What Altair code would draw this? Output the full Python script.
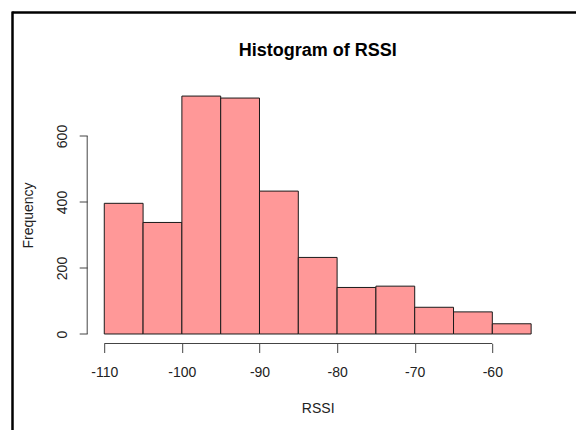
import altair as alt
import pandas as pd

bin_start = [-110, -105, -100, -95, -90, -85, -80, -75, -70, -65, -60]
bin_width = 5
counts = [396, 338, 721, 715, 433, 232, 141, 145, 81, 67, 31]

x_ticks = [-110, -100, -90, -80, -70, -60]
y_ticks = [0, 200, 400, 600]
title_text = "Histogram of RSSI"

df = pd.DataFrame({
    "start": bin_start,
    "end": [s + bin_width for s in bin_start],
    "count": counts,
})

FONT = "Liberation Sans"
W, H = 461, 257

xscale = alt.Scale(domain=[-112.2, -52.8], nice=False, zero=False)
yscale = alt.Scale(domain=[-28.8, 750], nice=False, zero=False)

bars = alt.Chart(df).mark_rect(
    fill="#ff9898", stroke="#1a1a1a", strokeWidth=1
).encode(
    x=alt.X("start:Q", scale=xscale, axis=alt.Axis(
        values=x_ticks, title="RSSI", domain=False, grid=False,
        tickSize=9, tickColor="#444", tickWidth=1,
        labelFont=FONT, labelFontSize=14, labelColor="#222", labelPadding=13,
        labelExpr="'' + datum.value",
        titleFont=FONT, titleFontSize=14, titleFontWeight="normal", titleColor="#222",
        titlePadding=22, labelFlush=False,
    )),
    x2="end:Q",
    y=alt.Y("count:Q", scale=yscale, axis=alt.Axis(
        values=y_ticks, title="Frequency", domain=False, grid=False,
        tickSize=8, tickColor="#444", tickWidth=1,
        labelFont=FONT, labelFontSize=14, labelColor="#222", labelPadding=13,
        labelAngle=270, labelAlign="center", labelBaseline="alphabetic",
        labelExpr="'' + datum.value",
        titleFont=FONT, titleFontSize=14, titleFontWeight="normal", titleColor="#222",
        titlePadding=20, labelFlush=False,
    )),
    y2=alt.datum(0),
)

xline_df = pd.DataFrame({"a": [x_ticks[0]], "b": [x_ticks[-1]]})
x_line = alt.Chart(xline_df).mark_rule(color="#444", strokeWidth=1).encode(
    x=alt.X("a:Q", scale=xscale), x2="b:Q", y=alt.value(H)
)
yline_df = pd.DataFrame({"a": [y_ticks[0]], "b": [y_ticks[-1]]})
y_line = alt.Chart(yline_df).mark_rule(color="#444", strokeWidth=1).encode(
    y=alt.Y("a:Q", scale=yscale), y2="b:Q", x=alt.value(0)
)

title = alt.Chart(pd.DataFrame({"t": [title_text]})).mark_text(
    font=FONT, fontSize=18, fontWeight="bold", color="#000",
    align="center", baseline="middle"
).encode(text="t:N", x=alt.value(W / 2), y=alt.value(-35.5))

frame_top = alt.Chart(xline_df).mark_rule(color="#000", strokeWidth=2.5).encode(
    x=alt.value(-75), x2=alt.value(W + 40), y=alt.value(-74)
)
frame_left = alt.Chart(xline_df).mark_rule(color="#000", strokeWidth=2.5).encode(
    x=alt.value(-74.7), y=alt.value(-75), y2=alt.value(H + 100)
)

chart = alt.layer(bars, x_line, y_line, title, frame_top, frame_left).properties(
    width=W, height=H,
    background="white",
    autosize=alt.AutoSizeParams(type="none"),
    padding={"left": 87.2, "top": 86.5, "right": 576 - 87.2 - W, "bottom": 430 - 86.5 - H},
).configure_view(stroke=None, strokeWidth=0)

chart.save("out.html", embed_options={"renderer": "svg", "actions": False})
